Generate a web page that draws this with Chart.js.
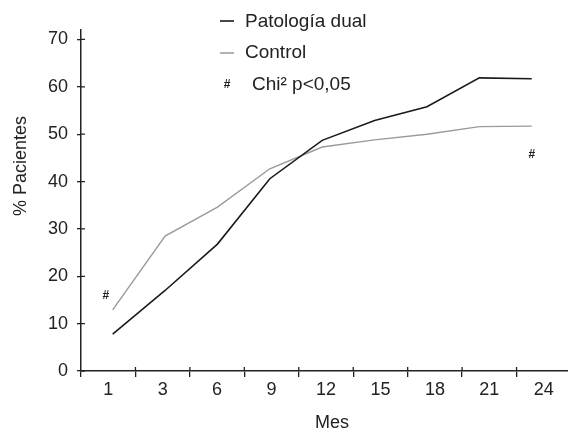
<!DOCTYPE html>
<html lang="es">

<head>
    <meta charset="utf-8">
    <title>Patología dual vs control</title>
    <script src="https://cdn.jsdelivr.net/npm/chart.js@4.4.0/dist/chart.umd.min.js"></script>
    <style>
        html, body { margin: 0; padding: 0; overflow: hidden; background: #fff; }
        .kontainer { position: relative; width: 571px; height: 431px; }
    </style>
</head>

<body>
    <div class="kontainer">
        <canvas id="myChart"></canvas>
    </div>
    <script>
        // datos
        const meses = ['1', '3', '6', '9', '12', '15', '18', '21', '24'];
        const patologiaDual = [7.8, 17, 26.8, 40.6, 48.7, 52.9, 55.8, 61.9, 61.7];
        const control = [12.9, 28.5, 34.6, 42.7, 47.3, 48.8, 50.0, 51.6, 51.7];
        const yTicks = [0, 10, 20, 30, 40, 50, 60, 70];

        // marcas "#" (posición en índice de mes, valor %)
        const hashIdx = [-0.13, 8];
        const hashVal = [15.9, 45.7];

        const leyenda = ['Patología dual', 'Control', 'Chi² p<0,05'];
        const tituloX = 'Mes';
        const tituloY = '% Pacientes';

        const fuente = "'Liberation Sans', Arial, sans-serif";
        const tinta = '#222';

        const aPuntos = arr => arr.map((v, i) => ({ x: i, y: v }));

        // ticks cruzando el eje, títulos, leyenda y "#"
        const decor = {
            id: 'decor',
            afterDraw(chart) {
                const ctx = chart.ctx;
                const area = chart.chartArea;
                const sx = chart.scales.x;
                const sy = chart.scales.y;
                const sp = chart.scales.xp;
                ctx.save();
                ctx.strokeStyle = tinta;
                ctx.lineWidth = 1.3;
                ctx.beginPath();
                yTicks.forEach(v => {
                    const py = sy.getPixelForValue(v);
                    ctx.moveTo(area.left, py);
                    ctx.lineTo(area.left + 4, py);
                });
                for (let i = 1; i < meses.length; i++) {
                    const px = (sx.getPixelForTick(i - 1) + sx.getPixelForTick(i)) / 2;
                    ctx.moveTo(px, area.bottom);
                    ctx.lineTo(px, area.bottom - 4);
                }
                ctx.stroke();

                ctx.fillStyle = tinta;
                ctx.font = '18px ' + fuente;
                ctx.textAlign = 'center';
                ctx.textBaseline = 'middle';
                ctx.fillText(tituloX, 332, 423);
                ctx.save();
                ctx.translate(21, 166);
                ctx.rotate(-Math.PI / 2);
                ctx.fillText(tituloY, 0, 0);
                ctx.restore();

                ctx.font = 'bold 12px ' + fuente;
                hashIdx.forEach((ix, i) => {
                    ctx.fillText('#', sp.getPixelForValue(ix), sy.getPixelForValue(hashVal[i]));
                });

                // leyenda
                ctx.lineWidth = 1.6;
                ctx.strokeStyle = '#1a1a1a';
                ctx.beginPath(); ctx.moveTo(220, 21); ctx.lineTo(234, 21); ctx.stroke();
                ctx.strokeStyle = '#a0a0a0';
                ctx.beginPath(); ctx.moveTo(220, 53); ctx.lineTo(234, 53); ctx.stroke();
                ctx.fillText('#', 227, 85);
                ctx.font = '19px ' + fuente;
                ctx.textAlign = 'left';
                ctx.fillText(leyenda[0], 245, 22);
                ctx.fillText(leyenda[1], 245, 53);
                ctx.fillText(leyenda[2], 252, 85);
                ctx.restore();
            }
        };

        const ctx = document.getElementById('myChart').getContext('2d');
        const myChart = new Chart(ctx, {
            type: 'line',
            data: {
                labels: meses,
                datasets: [{
                    label: leyenda[0],
                    data: aPuntos(patologiaDual),
                    xAxisID: 'xp',
                    borderColor: '#1a1a1a',
                    borderWidth: 1.6,
                    pointRadius: 0,
                    tension: 0
                }, {
                    label: leyenda[1],
                    data: aPuntos(control),
                    xAxisID: 'xp',
                    borderColor: '#9a9a9a',
                    borderWidth: 1.4,
                    pointRadius: 0,
                    tension: 0
                }]
            },
            options: {
                responsive: true,
                maintainAspectRatio: false,
                animation: false,
                layout: { padding: { top: 30, right: 0, bottom: 0, left: 0 } },
                plugins: { legend: { display: false }, tooltip: { enabled: false } },
                scales: {
                    x: {
                        type: 'category',
                        position: 'bottom',
                        offset: true,
                        grid: { offset: true, drawOnChartArea: false, tickLength: 6, color: tinta, lineWidth: 1.3 },
                        border: { color: tinta, width: 1.5 },
                        ticks: { font: { family: fuente, size: 18 }, color: tinta, padding: 2, maxRotation: 0, autoSkip: false },
                        afterFit(s) { s.height = 60; }
                    },
                    xp: { type: 'linear', position: 'bottom', display: false, min: -0.605, max: 8.75 },
                    y: {
                        min: 0,
                        max: 72,
                        afterBuildTicks(s) { s.ticks = yTicks.map(v => ({ value: v })); },
                        grid: { drawOnChartArea: false, tickLength: 4, color: tinta, lineWidth: 1.3 },
                        border: { color: tinta, width: 1.5 },
                        ticks: { font: { family: fuente, size: 18 }, color: tinta, padding: 9 },
                        afterFit(s) { s.width = 81; }
                    }
                }
            },
            plugins: [decor]
        });
    </script>
</body>

</html>
